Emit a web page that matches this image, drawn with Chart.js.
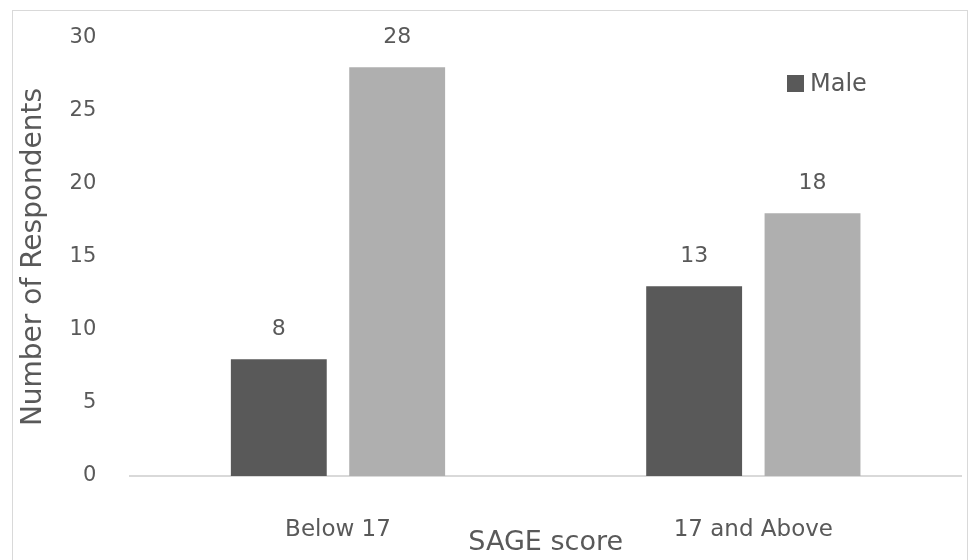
<!DOCTYPE html>
<html>
<head>
<meta charset="utf-8">
<script src="https://cdn.jsdelivr.net/npm/chart.js@4"></script>
<style>
  html, body { margin: 0; padding: 0; background: #fff; }
  #wrap { position: absolute; left: 12px; top: 10px; width: 956px; height: 560px; border: 1px solid #d9d9d9; box-sizing: border-box; }
  #box { position: absolute; left: 0; top: 0; width: 972px; height: 560px; }
</style>
</head>
<body>
<div id="wrap"></div>
<div id="box"><canvas id="chart"></canvas></div>
<script>
const categories = ['Below 17', '17 and Above'];
const maleValues = [8, 13];
const femaleValues = [28, 18];
const yTicks = [0, 5, 10, 15, 20, 25, 30];

const darkGrey = '#595959';
const lightGrey = '#afafaf';
const textGrey = '#595959';
const fontName = "'DejaVu Sans', sans-serif";

// value labels above each bar
const barLabels = {
    id: 'barLabels',
    afterDatasetsDraw(chart) {
        const ctx = chart.ctx;
        ctx.save();
        ctx.fillStyle = textGrey;
        ctx.font = '22px ' + fontName;
        ctx.textAlign = 'center';
        ctx.textBaseline = 'alphabetic';
        chart.data.datasets.forEach((ds, i) => {
            chart.getDatasetMeta(i).data.forEach((bar, j) => {
                ctx.fillText(ds.data[j], bar.x, bar.y - 24);
            });
        });
        ctx.restore();
    }
};

// small legend inside the plot, only the first series
const insideLegend = {
    id: 'insideLegend',
    afterDraw(chart) {
        const ctx = chart.ctx;
        const ds = chart.data.datasets[0];
        ctx.save();
        ctx.fillStyle = ds.backgroundColor;
        ctx.fillRect(787, 75, 17, 17);
        ctx.fillStyle = textGrey;
        ctx.font = '24px ' + fontName;
        ctx.textBaseline = 'middle';
        ctx.fillText(ds.label, 810, 85);
        ctx.restore();
    }
};

new Chart(document.getElementById('chart'), {
    type: 'bar',
    data: {
        labels: categories,
        datasets: [
            { label: 'Male', data: maleValues, backgroundColor: darkGrey },
            { label: 'Female', data: femaleValues, backgroundColor: lightGrey }
        ]
    },
    options: {
        responsive: true,
        maintainAspectRatio: false,
        animation: false,
        layout: { padding: { left: 17, right: 11, top: 38, bottom: 0 } },
        datasets: { bar: { categoryPercentage: 0.57, barPercentage: 0.81 } },
        plugins: {
            legend: { display: false },
            tooltip: { enabled: false }
        },
        scales: {
            x: {
                grid: { display: false, drawTicks: false },
                border: { color: '#d9d9d9', width: 2 },
                ticks: { color: textGrey, font: { family: fontName, size: 23 }, padding: 40 },
                title: { display: true, text: 'SAGE score', color: textGrey, font: { family: fontName, size: 27 }, padding: { top: -57, bottom: 1 } }
            },
            y: {
                min: 0,
                max: 30,
                afterBuildTicks: (axis) => { axis.ticks = yTicks.map(v => ({ value: v })); },
                afterFit: (axis) => { axis.paddingTop = 0; },
                grid: { display: false, drawTicks: false },
                border: { display: false },
                ticks: { color: textGrey, font: { family: fontName, size: 21 }, padding: 34 },
                title: { display: true, text: 'Number of Respondents', color: textGrey, font: { family: fontName, size: 28 }, padding: { top: 0, bottom: -15 } }
            }
        }
    },
    plugins: [barLabels, insideLegend]
});
</script>
</body>
</html>
